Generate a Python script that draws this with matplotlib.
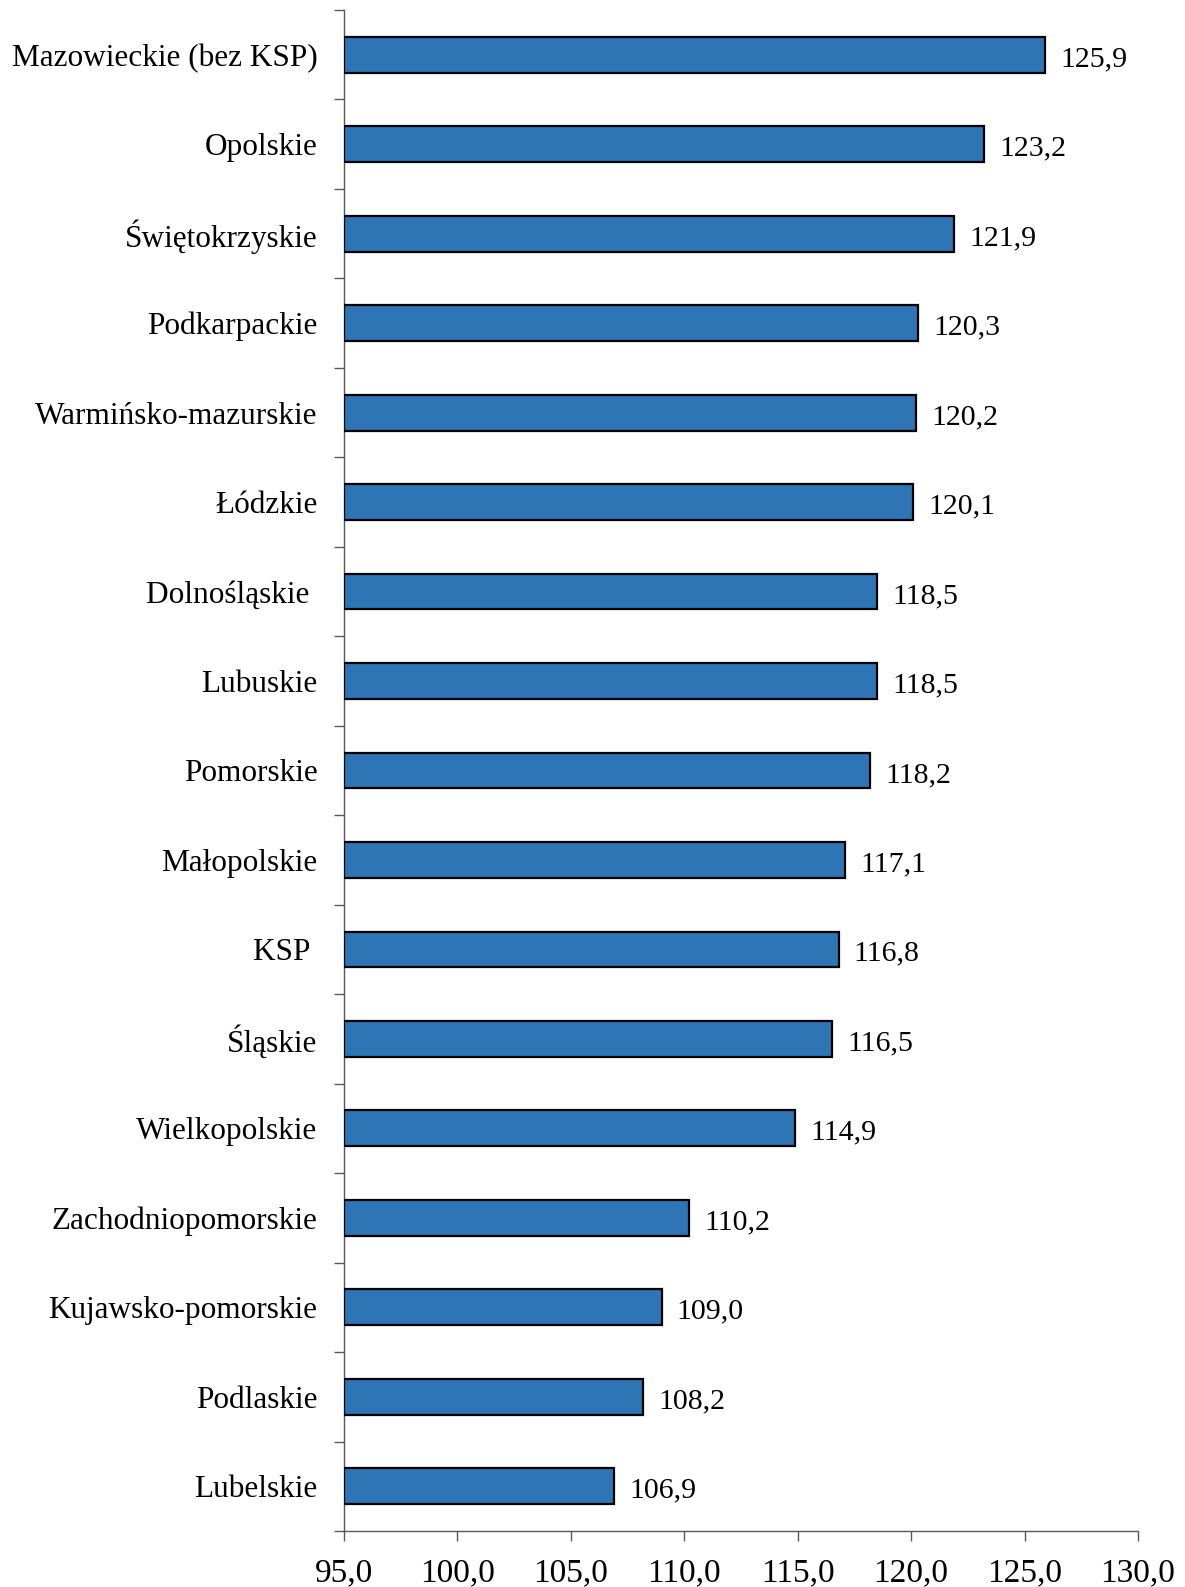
import numpy as np
import matplotlib.pyplot as plt
from matplotlib.ticker import FixedLocator, FuncFormatter

# regions, top to bottom as in the chart
regions = ['Mazowieckie (bez KSP)', 'Opolskie', 'Świętokrzyskie', 'Podkarpackie',
           'Warmińsko-mazurskie', 'Łódzkie', 'Dolnośląskie ', 'Lubuskie', 'Pomorskie',
           'Małopolskie', 'KSP ', 'Śląskie', 'Wielkopolskie', 'Zachodniopomorskie',
           'Kujawsko-pomorskie', 'Podlaskie', 'Lubelskie']
values = [125.9, 123.2, 121.9, 120.3, 120.2, 120.1, 118.5, 118.5, 118.2,
          117.1, 116.8, 116.5, 114.9, 110.2, 109.0, 108.2, 106.9]
x_ticks = [95, 100, 105, 110, 115, 120, 125, 130]

plt.rcParams['font.family'] = ['Liberation Serif', 'DejaVu Serif']
axis_col = '#595959'

fig = plt.figure(figsize=(11.85, 15.87), dpi=100)
ax = fig.add_axes([0.2903, 0.0353, 0.6700, 0.9584])

n = len(regions)
y = np.arange(n)[::-1]
base = 95
ax.barh(y, np.array(values) - base, left=base, height=0.4,
        color='#2E75B6', edgecolor='black', linewidth=1.6, zorder=3)

for yi, v in zip(y, values):
    ax.annotate(f'{v:.1f}'.replace('.', ','), xy=(v, yi), xytext=(11, -1),
                textcoords='offset points', va='center_baseline', ha='left', fontsize=21.5)

ax.set_xlim(95, 130)
ax.set_ylim(-0.5, n - 0.5)

ax.set_yticks(y)
ax.set_yticklabels(regions, fontsize=22.5)
ax.yaxis.set_minor_locator(FixedLocator(np.arange(-0.5, n, 1.0)))
ax.tick_params(axis='y', which='major', length=0, pad=19)
ax.tick_params(axis='y', which='minor', length=7, width=1, color=axis_col, direction='out')

ax.set_xticks(x_ticks)
ax.xaxis.set_major_formatter(FuncFormatter(lambda v, p: f'{v:.1f}'.replace('.', ',')))
ax.tick_params(axis='x', length=7, width=1, color=axis_col, direction='out', pad=12, labelsize=24)

for s in ['top', 'right']:
    ax.spines[s].set_visible(False)
for s in ['left', 'bottom']:
    ax.spines[s].set_color(axis_col)
    ax.spines[s].set_linewidth(1)

fig.savefig('out.png', dpi=100)
